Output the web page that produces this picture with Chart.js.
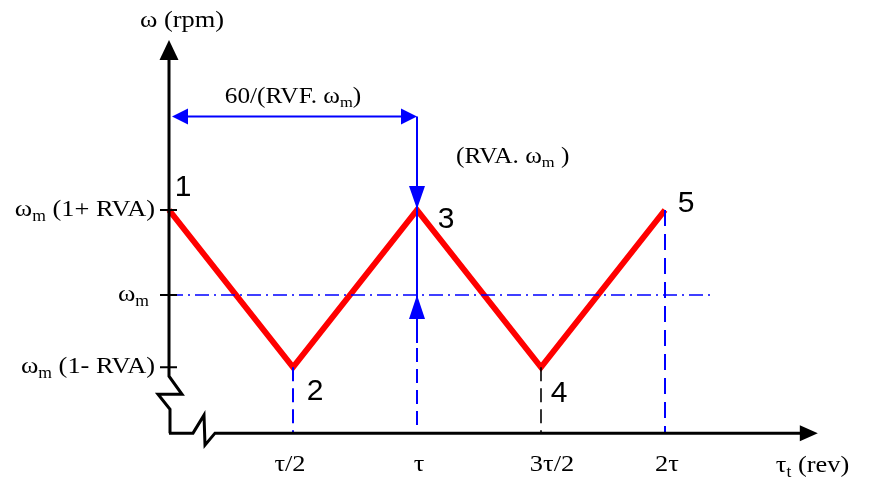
<!DOCTYPE html>
<html>
<head>
<meta charset="utf-8">
<script src="https://cdn.jsdelivr.net/npm/chart.js@4/dist/chart.umd.min.js"></script>
<style>
  html, body { margin: 0; padding: 0; background: #ffffff; }
  #wrap { width: 870px; height: 483px; }
</style>
</head>
<body>
<div id="wrap"><canvas id="c" width="870" height="483"></canvas></div>
<script>
// Rotor speed over revolutions: triangular ripple around the mean speed.
// x is measured in periods τ, y in units of the mean speed ωm.
const positions   = [0, 0.5, 1, 1.5, 2];
const speeds      = [1.2, 0.83, 1.2, 0.83, 1.2];
const pointLabels = ['1', '2', '3', '4', '5'];

const meanSpeed   = 1.0;
const meanLineEnd = 2.19;     // how far the ωm reference line runs
const axisFloor   = 0.675;    // level of the (broken) horizontal axis
const periodLevel = 1.42;     // height of the period dimension arrow

const xTickValues = [0.5, 1, 1.5, 2];
const xTickLabels = ['τ/2', 'τ', '3τ/2', '2τ'];
const yTickValues = [1.2, 1.0, 0.83];
const yTickLabels = ['ω_{m} (1+ RVA)', 'ω_{m}', 'ω_{m} (1- RVA)'];

const yAxisTitle  = 'ω (rpm)';
const xAxisTitle  = 'τ_{t} (rev)';
const periodLabel = '60/(RVF. ω_{m})';
const ampLabel    = '(RVA. ω_{m} )';

// ---- drawing style ----
const RED = '#ff0000', BLUE = '#0000ff', BLACK = '#000000';
const SERIF = '"Liberation Serif", "DejaVu Serif", serif';
const SANS  = '"Liberation Sans", Arial, sans-serif';
const SERIF_SIZE = 24;
const TEXT_SX = 1.1;                  // horizontal stretch of the serif labels
const xTickShift = [-3, 2, 11, 2];    // small nudges of the x tick labels

// scale layout: origin of the plot and pixels per unit
const ORIGIN_X = 169, PX_PER_TAU = 248;
const MEAN_Y = 295, PX_PER_UNIT = 425;
const W = 870, H = 483;

function segs(str) {
  const out = []; const re = /_\{([^}]*)\}/g; let last = 0, m;
  while ((m = re.exec(str))) {
    if (m.index > last) out.push({ t: str.slice(last, m.index), sub: false });
    out.push({ t: m[1], sub: true });
    last = re.lastIndex;
  }
  if (last < str.length) out.push({ t: str.slice(last), sub: false });
  return out;
}

function drawRich(ctx, str, x, y, align, size) {
  const parts = segs(str);
  const subSize = Math.round(size * 0.66);
  ctx.save();
  ctx.fillStyle = BLACK;
  ctx.textBaseline = 'alphabetic';
  ctx.textAlign = 'left';
  let w = 0;
  parts.forEach(p => {
    ctx.font = (p.sub ? subSize : size) + 'px ' + SERIF;
    p.w = ctx.measureText(p.t).width; w += p.w;
  });
  w *= TEXT_SX;
  const x0 = align === 'right' ? x - w : align === 'center' ? x - w / 2 : x;
  ctx.translate(x0, y);
  ctx.scale(TEXT_SX, 1);
  let cx = 0;
  parts.forEach(p => {
    ctx.font = (p.sub ? subSize : size) + 'px ' + SERIF;
    ctx.fillText(p.t, cx, p.sub ? size * 0.2 : 0);
    cx += p.w;
  });
  ctx.restore();
}

function arrowHead(ctx, tipX, tipY, dx, dy, len, half, color) {
  // (dx, dy) is the unit direction the arrow points to
  const bx = tipX - dx * len, by = tipY - dy * len;
  const nx = -dy, ny = dx;
  ctx.save();
  ctx.fillStyle = color;
  ctx.beginPath();
  ctx.moveTo(tipX, tipY);
  ctx.lineTo(bx + nx * half, by + ny * half);
  ctx.lineTo(bx - nx * half, by - ny * half);
  ctx.closePath();
  ctx.fill();
  ctx.restore();
}

function line(ctx, pts, color, width, dash) {
  ctx.save();
  ctx.strokeStyle = color; ctx.lineWidth = width;
  ctx.setLineDash(dash || []);
  ctx.lineJoin = 'miter'; ctx.lineCap = 'butt';
  ctx.beginPath();
  pts.forEach((p, i) => i ? ctx.lineTo(p[0], p[1]) : ctx.moveTo(p[0], p[1]));
  ctx.stroke();
  ctx.restore();
}

const decor = {
  id: 'decor',
  afterDatasetsDraw(chart) {
    const ctx = chart.ctx;
    const xs = chart.scales.x, ys = chart.scales.y;
    const X = v => xs.getPixelForValue(v);
    const Y = v => ys.getPixelForValue(v);
    const ox = X(0), floor = Y(axisFloor);
    const lastTick = Y(Math.min(...yTickValues));

    // vertical axis with its break
    line(ctx, [[ox, 58], [ox, lastTick + 9], [ox + 13, lastTick + 27],
               [ox - 11, lastTick + 27], [ox + 1, lastTick + 42], [ox + 1, floor]], BLACK, 3);
    arrowHead(ctx, ox, 40, 0, -1, 20, 9.5, BLACK);

    // horizontal axis with its break
    line(ctx, [[ox, floor], [ox + 24, floor], [ox + 35, floor - 18],
               [ox + 36, floor + 12], [ox + 46, floor], [X(2.6) - 12, floor]], BLACK, 3);
    arrowHead(ctx, X(2.6) + 4, floor, 1, 0, 18, 8, BLACK);

    // y ticks and labels
    yTickValues.forEach((v, i) => {
      const py = Y(v);
      line(ctx, [[ox - 9, py], [ox + 8, py]], BLACK, 2);
      drawRich(ctx, yTickLabels[i], i === 1 ? ox - 20 : ox - 14, py + 6, 'right', SERIF_SIZE);
    });

    // x tick labels
    xTickValues.forEach((v, i) => {
      drawRich(ctx, xTickLabels[i], X(v) + xTickShift[i], floor + 38, 'center', SERIF_SIZE);
    });

    // axis titles
    drawRich(ctx, yAxisTitle, ox + 13, 27, 'center', SERIF_SIZE);
    drawRich(ctx, xAxisTitle, X(2.6) - 38, floor + 39, 'left', SERIF_SIZE);

    // period dimension arrow between point 1 and point 3
    const py = Y(periodLevel), x3 = X(positions[2]);
    line(ctx, [[ox + 14, py], [x3 - 14, py]], BLUE, 2);
    arrowHead(ctx, ox + 3, py, -1, 0, 16, 8, BLUE);
    arrowHead(ctx, x3, py, 1, 0, 16, 8, BLUE);
    drawRich(ctx, periodLabel, (ox + x3) / 2, py - 14, 'center', SERIF_SIZE - 1);

    // amplitude dimension arrows at point 3
    const peak = Y(speeds[2]), mean = Y(meanSpeed);
    line(ctx, [[x3, py], [x3, mean + 48]], BLUE, 2);
    arrowHead(ctx, x3, peak - 1, 0, 1, 23, 8, BLUE);
    arrowHead(ctx, x3, mean, 0, -1, 24, 8, BLUE);
    drawRich(ctx, ampLabel, x3 + 39, py + 46, 'left', SERIF_SIZE - 1);

    // point numbers
    const numOffsets = [[14, -22], [22, 24], [29, 10], [18, 26], [21, -6]];
    ctx.save();
    ctx.fillStyle = BLACK;
    ctx.font = '30px ' + SANS;
    ctx.textAlign = 'center';
    ctx.textBaseline = 'middle';
    positions.forEach((p, i) => {
      ctx.fillText(pointLabels[i], X(p) + numOffsets[i][0], Y(speeds[i]) + numOffsets[i][1]);
    });
    ctx.restore();
  }
};

const pts = positions.map((x, i) => ({ x, y: speeds[i] }));
const drop = (x, yTop) => [{ x, y: yTop }, { x, y: axisFloor }];

new Chart(document.getElementById('c'), {
  type: 'line',
  data: {
    datasets: [
      { data: pts, borderColor: RED, borderWidth: 6, borderJoinStyle: 'miter',
        pointRadius: 0, tension: 0, order: 3, clip: false },
      { data: [{ x: 0, y: meanSpeed }, { x: meanLineEnd, y: meanSpeed }],
        borderColor: BLUE, borderWidth: 1.6, borderDash: [14, 5, 2, 5],
        pointRadius: 0, order: 2, clip: false },
      { data: drop(positions[1], speeds[1]), borderColor: BLUE, borderWidth: 2,
        borderDash: [14, 7], pointRadius: 0, order: 1, clip: false },
      { data: drop(positions[2], meanSpeed), borderColor: BLUE, borderWidth: 2,
        borderDash: [14, 7], borderDashOffset: 10, pointRadius: 0, order: 1, clip: false },
      { data: drop(positions[3], speeds[3]), borderColor: BLACK, borderWidth: 1.6,
        borderDash: [14, 7], pointRadius: 0, order: 1, clip: false },
      { data: drop(positions[4], speeds[4]), borderColor: BLUE, borderWidth: 2,
        borderDash: [16, 8], pointRadius: 0, order: 1, clip: false }
    ]
  },
  options: {
    responsive: false,
    animation: false,
    devicePixelRatio: 1,
    layout: { padding: 0 },
    plugins: { legend: { display: false }, tooltip: { enabled: false } },
    scales: {
      x: { type: 'linear', display: false,
           min: -ORIGIN_X / PX_PER_TAU, max: (W - ORIGIN_X) / PX_PER_TAU },
      y: { type: 'linear', display: false,
           min: meanSpeed - (H - MEAN_Y) / PX_PER_UNIT, max: meanSpeed + MEAN_Y / PX_PER_UNIT }
    }
  },
  plugins: [decor]
});
</script>
</body>
</html>
